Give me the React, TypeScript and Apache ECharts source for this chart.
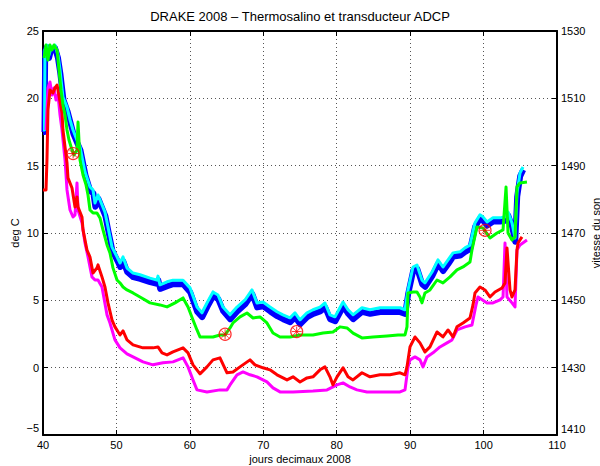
import React, { useEffect, useRef } from "react";
import * as echarts from "echarts";

const titleText = "DRAKE 2008 – Thermosalino et transducteur ADCP";
const xName = "jours decimaux 2008";
const leftName = "deg C";
const rightName = "vitesse du son";
const rightTicks = [1410, 1430, 1450, 1470, 1490, 1510, 1530];

// [day, sound speed m/s] – cyan (right axis)
const cyanSpeed = [
  [40.0, 1500.6], [40.2, 1500.6], [40.27, 1524.4], [40.54, 1525.8], [40.82, 1522.9], [41.09, 1525.0],
  [41.63, 1525.8], [42.04, 1522.9], [42.32, 1518.4], [42.72, 1510.4], [43.27, 1507.4], [43.68, 1503.6],
  [44.09, 1500.6], [44.63, 1497.6], [45.04, 1495.6], [45.72, 1488.1], [46.4, 1483.7], [46.81, 1482.8],
  [47.08, 1478.9], [47.49, 1481.3], [48.44, 1476.2], [48.85, 1471.8], [49.4, 1465.8], [50.08, 1462.9],
  [50.49, 1461.1], [50.9, 1462.9], [51.44, 1459.6], [52.26, 1458.1], [53.21, 1457.6], [54.57, 1456.6],
  [55.53, 1456.0], [55.66, 1457.2], [55.93, 1454.6], [56.89, 1455.5], [57.7, 1456.0], [59.07, 1456.0],
  [60.02, 1453.7], [60.97, 1448.0], [61.65, 1446.3], [62.33, 1449.2], [63.15, 1452.5], [63.83, 1451.6],
  [64.51, 1448.0], [65.47, 1445.7], [66.42, 1448.0], [67.51, 1450.1], [68.46, 1453.1], [69.14, 1449.2],
  [69.96, 1449.5], [70.91, 1448.0], [71.87, 1446.6], [72.68, 1445.7], [73.64, 1444.8], [74.32, 1446.3],
  [75.0, 1444.2], [75.95, 1446.3], [76.77, 1447.2], [77.72, 1448.0], [78.4, 1449.2], [79.08, 1445.7],
  [79.77, 1445.1], [80.86, 1449.5], [81.54, 1447.2], [82.22, 1445.7], [83.44, 1447.8], [84.53, 1447.2],
  [85.89, 1447.8], [87.26, 1447.8], [88.62, 1447.8], [89.3, 1447.2], [89.71, 1453.1], [90.39, 1459.9],
  [90.93, 1460.5], [91.61, 1456.0], [92.02, 1455.2], [92.98, 1458.4], [93.79, 1462.0], [94.47, 1459.9],
  [95.16, 1462.0], [95.84, 1464.1], [96.79, 1464.4], [97.47, 1465.6], [98.15, 1466.4], [98.83, 1473.0],
  [99.51, 1475.4], [99.92, 1474.8], [100.47, 1473.3], [101.28, 1474.5], [102.24, 1474.5], [102.92, 1474.8],
  [103.33, 1476.2], [103.87, 1473.0], [104.28, 1468.5], [104.55, 1481.9], [104.96, 1487.8], [105.37, 1489.6],
];

// [day, sound speed m/s] – blue (right axis)
const blueSpeed = [
  [40.0, 1500.0], [40.2, 1500.0], [40.3, 1523.8], [40.54, 1525.2], [40.82, 1522.0], [41.09, 1524.4],
  [41.63, 1525.0], [42.04, 1522.0], [42.36, 1517.4], [42.78, 1509.6], [43.33, 1506.2], [43.74, 1502.8],
  [44.15, 1499.4], [44.7, 1496.6], [45.1, 1494.6], [45.78, 1487.2], [46.45, 1482.4], [46.86, 1481.8],
  [47.13, 1477.8], [47.54, 1480.2], [48.5, 1475.0], [48.9, 1470.6], [49.45, 1464.8], [50.12, 1461.8],
  [50.52, 1459.9], [50.93, 1461.6], [51.47, 1458.4], [52.29, 1456.9], [53.24, 1456.4], [54.6, 1455.4],
  [55.55, 1454.9], [55.7, 1456.0], [55.96, 1453.4], [56.92, 1454.2], [57.72, 1454.8], [59.1, 1454.8],
  [60.05, 1452.4], [61.0, 1446.6], [61.68, 1445.0], [62.36, 1448.0], [63.18, 1451.3], [63.86, 1450.4],
  [64.54, 1446.8], [65.5, 1444.4], [66.45, 1446.7], [67.54, 1448.8], [68.5, 1451.9], [69.17, 1447.9],
  [70.0, 1448.2], [70.95, 1446.7], [71.9, 1445.3], [72.7, 1444.4], [73.67, 1443.5], [74.35, 1445.0],
  [75.03, 1442.9], [75.98, 1445.0], [76.8, 1446.0], [77.75, 1446.7], [78.43, 1447.9], [79.1, 1444.4],
  [79.8, 1443.8], [80.9, 1448.2], [81.57, 1446.0], [82.25, 1444.4], [83.47, 1446.6], [84.56, 1446.0],
  [85.92, 1446.5], [87.29, 1446.6], [88.65, 1446.5], [89.33, 1446.0], [89.74, 1452.0], [90.42, 1458.8],
  [90.96, 1459.4], [91.64, 1454.8], [92.05, 1454.0], [93.0, 1457.2], [93.82, 1460.9], [94.5, 1458.7],
  [95.19, 1460.8], [95.87, 1463.0], [96.82, 1463.3], [97.5, 1464.4], [98.18, 1465.3], [98.86, 1471.9],
  [99.54, 1474.4], [99.95, 1473.6], [100.5, 1472.2], [101.3, 1473.4], [102.27, 1473.4], [102.95, 1473.6],
  [103.36, 1475.2], [103.9, 1471.8], [104.31, 1467.4], [104.58, 1480.8], [104.99, 1486.9], [105.4, 1488.8],
];

// [day, deg C] – green
const greenTemp = [
  [40.14, 22.99], [40.41, 23.96], [40.68, 22.85], [40.95, 23.96], [41.23, 23.59], [41.5, 23.96],
  [41.91, 23.59], [42.18, 22.1], [42.45, 20.62], [42.72, 19.51], [43.0, 18.76], [43.27, 17.65],
  [43.54, 16.91], [43.95, 16.17], [44.22, 15.79], [44.63, 16.17], [44.77, 18.24], [45.04, 15.42],
  [45.45, 14.31], [45.86, 13.57], [46.13, 12.82], [46.4, 11.71], [46.81, 11.49], [47.35, 11.49],
  [47.76, 11.12], [48.17, 10.23], [48.72, 9.11], [49.12, 8.52], [49.53, 7.41], [50.08, 6.51],
  [50.49, 6.29], [50.9, 5.99], [51.44, 5.77], [52.26, 5.55], [53.21, 5.25], [54.57, 4.81],
  [55.93, 4.66], [56.89, 4.51], [57.98, 4.81], [59.07, 5.18], [59.75, 4.51], [60.43, 3.54],
  [60.97, 2.8], [61.38, 2.28], [62.33, 2.28], [63.15, 2.28], [64.1, 2.43], [64.79, 2.43],
  [65.47, 2.95], [65.87, 3.32], [66.83, 3.77], [67.78, 4.06], [68.6, 3.69], [69.55, 3.77],
  [70.5, 3.32], [71.32, 2.57], [72.28, 2.28], [73.64, 2.28], [75.0, 2.43], [76.77, 2.43],
  [78.13, 2.57], [79.49, 2.65], [80.45, 3.03], [81.4, 2.95], [82.22, 2.57], [83.44, 2.21],
  [84.94, 2.28], [86.85, 2.36], [88.35, 2.43], [89.3, 2.43], [89.57, 3.03], [89.71, 5.55],
  [90.39, 5.62], [90.93, 5.62], [91.34, 5.25], [91.61, 4.81], [92.02, 5.55], [92.7, 5.77],
  [93.66, 6.51], [94.47, 6.29], [95.43, 6.74], [96.38, 7.26], [97.2, 7.48], [98.15, 7.85],
  [98.42, 8.74], [99.1, 10.45], [99.92, 10.38], [100.87, 9.63], [101.83, 10.0], [102.65, 10.23],
  [103.06, 13.42], [103.33, 10.0], [103.87, 9.48], [104.28, 9.71], [104.55, 13.42], [104.96, 13.72],
  [105.91, 13.79],
];

// [day, deg C] – red
const redTemp = [
  [40.0, 13.2], [40.41, 13.2], [40.54, 15.42], [40.68, 19.14], [40.95, 20.62], [41.36, 20.4],
  [41.63, 20.77], [41.91, 20.99], [42.04, 20.62], [42.32, 19.73], [42.59, 18.91], [42.72, 17.65],
  [43.0, 16.39], [43.27, 15.2], [43.4, 14.09], [43.95, 13.34], [44.36, 11.93], [44.63, 12.68],
  [44.77, 11.93], [45.31, 11.19], [45.45, 10.23], [45.99, 8.74], [46.4, 8.22], [46.81, 7.03],
  [47.35, 7.41], [47.49, 7.63], [48.03, 6.74], [48.44, 5.99], [48.85, 4.81], [49.4, 3.54],
  [49.8, 3.03], [50.49, 2.43], [50.9, 2.73], [51.44, 2.06], [52.26, 1.69], [53.62, 1.47],
  [54.98, 1.47], [55.66, 1.54], [56.21, 1.1], [56.89, 0.95], [57.7, 1.17], [59.07, 1.47],
  [59.75, 1.1], [60.43, 0.21], [61.38, -0.46], [62.33, 0.06], [63.15, 0.58], [64.1, 0.73],
  [65.06, -0.38], [65.87, -0.32], [66.83, 0.06], [68.19, 0.58], [68.87, 0.21], [69.96, -0.01],
  [70.91, -0.16], [71.87, -0.53], [73.23, -0.91], [74.05, -0.68], [75.0, -1.06], [75.95, -0.76],
  [76.77, -0.68], [77.72, -0.16], [78.4, 0.06], [79.08, -0.68], [79.49, -1.28], [80.04, -0.68],
  [80.86, -0.01], [81.54, -0.68], [82.22, -0.91], [83.44, -0.38], [84.53, -0.68], [85.89, -0.53],
  [87.26, -0.53], [88.62, -0.38], [89.3, -0.53], [89.57, 0.06], [89.98, 1.54], [90.66, 2.28],
  [91.34, 1.84], [92.02, 1.17], [92.7, 1.54], [93.66, 2.65], [94.47, 2.28], [95.16, 2.8],
  [95.84, 2.28], [96.38, 3.03], [97.2, 3.32], [98.15, 3.69], [98.56, 4.66], [98.83, 5.55],
  [99.51, 5.99], [100.19, 5.77], [100.87, 5.25], [101.56, 5.62], [102.51, 5.92], [102.92, 6.29],
  [103.19, 8.89], [103.6, 5.77], [103.87, 5.25], [104.28, 5.77], [104.55, 8.74], [104.69, 9.26],
  [105.23, 9.71],
];

// [day, deg C] – magenta
const magentaTemp = [
  [40.41, 17.65], [40.68, 20.77], [40.95, 21.21], [41.23, 20.25], [41.5, 20.77], [41.77, 19.88],
  [42.04, 20.25], [42.32, 18.76], [42.59, 17.65], [43.0, 15.42], [43.27, 13.2], [43.68, 11.71],
  [44.09, 11.19], [44.36, 11.34], [44.63, 13.72], [44.77, 11.71], [45.31, 10.75], [45.72, 9.26],
  [46.13, 8.22], [46.67, 6.74], [47.08, 6.51], [47.49, 6.51], [48.03, 5.99], [48.72, 3.92],
  [49.12, 3.32], [49.8, 2.06], [50.49, 1.47], [51.44, 1.02], [52.26, 0.8], [53.62, 0.43],
  [54.98, 0.21], [56.34, 0.36], [57.7, 0.43], [59.07, 0.73], [59.75, 0.06], [60.43, -0.91],
  [60.97, -1.65], [62.33, -1.8], [64.1, -1.65], [65.06, -1.65], [65.47, -1.28], [66.42, -0.53],
  [67.24, -0.32], [68.19, -0.53], [69.14, -0.68], [70.5, -1.06], [71.32, -1.5], [72.28, -1.8],
  [74.05, -1.8], [76.77, -1.73], [78.68, -1.65], [80.04, -1.28], [80.86, -1.13], [81.81, -1.43],
  [82.76, -1.65], [84.12, -1.8], [88.62, -1.8], [89.3, -1.65], [89.71, 0.06], [89.98, 0.58],
  [90.66, 0.8], [91.34, 0.58], [91.75, 0.06], [92.29, 0.8], [93.11, 1.1], [94.06, 1.54],
  [95.02, 1.84], [95.7, 2.06], [96.38, 2.8], [97.47, 3.03], [98.42, 3.17], [98.97, 4.66],
  [99.24, 5.25], [100.47, 4.81], [101.28, 4.81], [102.24, 5.03], [102.65, 5.25], [102.92, 9.26],
  [103.19, 5.25], [103.87, 4.81], [104.28, 4.51], [104.55, 8.74], [104.96, 9.11], [105.91, 9.48],
];

// [day, deg C] – marked stations
const stations = [[44.1, 15.9], [64.8, 2.48], [74.55, 2.68], [100.2, 10.2]];

const FONT = "'Liberation Sans', Arial, Helvetica, sans-serif";
const ASTERISK = "path://M10 0 L10 20 M0 10 L20 10 M3 3 L17 17 M3 17 L17 3";

export default function App() {
  const ref = useRef<HTMLDivElement>(null);
  useEffect(() => {
    if (!ref.current) return;
    const chart = echarts.init(ref.current, undefined, { renderer: "svg" });
    const txt = { fontFamily: FONT, fontSize: 11, color: "#000" };
    const axLine = { show: true, onZero: false, lineStyle: { color: "#000", width: 2 } };
    const tick = { show: true, inside: true, length: 5, lineStyle: { color: "#000", width: 1 } };
    const grid = { show: true, lineStyle: { color: "#555", type: [1, 3], width: 1 } };
    const line = (data: number[][], color: string, width: number, yIdx: number) => ({
      type: "line",
      data,
      yAxisIndex: yIdx,
      showSymbol: false,
      symbol: "none",
      silent: true,
      lineStyle: { color, width, join: "round" },
    });
    chart.setOption({
      animation: false,
      backgroundColor: "#fff",
      title: {
        text: titleText,
        left: "center",
        top: 10,
        padding: 0,
        textStyle: { ...txt, fontSize: 13, fontWeight: "normal" },
      },
      grid: { left: 43, right: 43, top: 31, bottom: 31, outerBoundsMode: "none", containLabel: false },
      xAxis: [
        {
          type: "value",
          min: 40,
          max: 110,
          interval: 10,
          position: "bottom",
          name: xName,
          nameLocation: "middle",
          nameGap: 18,
          nameMoveOverlap: false,
          nameTextStyle: txt,
          axisLine: axLine,
          axisTick: tick,
          axisLabel: { ...txt, margin: 4 },
          splitLine: grid,
        },
        {
          type: "value",
          min: 40,
          max: 110,
          interval: 10,
          position: "top",
          axisLine: axLine,
          axisTick: tick,
          axisLabel: { show: false },
          splitLine: { show: false },
        },
      ],
      yAxis: [
        {
          type: "value",
          min: -5,
          max: 25,
          interval: 5,
          position: "left",
          name: leftName,
          nameLocation: "middle",
          nameGap: 23,
          nameRotate: 90,
          nameMoveOverlap: false,
          nameTextStyle: txt,
          axisLine: axLine,
          axisTick: tick,
          axisLabel: {
            ...txt,
            margin: 4,
            formatter: (v: number) => (v === -5 ? "{lo|−5}" : v < 0 ? "−" + Math.abs(v) : String(v)),
            rich: { lo: { ...txt, padding: [0, 0, 14, 0] } },
          },
          splitLine: grid,
        },
        {
          type: "value",
          min: 1410,
          max: 1530,
          position: "right",
          name: rightName,
          nameLocation: "middle",
          nameGap: 33,
          nameRotate: 90,
          nameMoveOverlap: false,
          nameTextStyle: txt,
          axisLine: axLine,
          axisTick: { ...tick, customValues: rightTicks },
          axisLabel: {
            ...txt,
            margin: 4,
            customValues: rightTicks,
            formatter: (v: number) => (v === 1410 ? "{lo|1410}" : String(v)),
            rich: { lo: { ...txt, padding: [0, 0, 12, 0] } },
          },
          splitLine: { show: false },
        },
      ],
      series: [
        line(blueSpeed, "#0000ff", 6, 1),
        line(cyanSpeed, "#00ffff", 3, 1),
        line(magentaTemp, "#ff00ff", 3, 0),
        line(redTemp, "#ff0000", 3, 0),
        line(greenTemp, "#00ff00", 3, 0),
        {
          type: "scatter",
          data: stations,
          yAxisIndex: 0,
          symbol: "circle",
          symbolSize: 12,
          silent: true,
          itemStyle: { color: "none", borderColor: "#ff0000", borderWidth: 1.2 },
          z: 5,
        },
        {
          type: "scatter",
          data: stations,
          yAxisIndex: 0,
          symbol: ASTERISK,
          symbolSize: 10,
          silent: true,
          itemStyle: { color: "none", borderColor: "#ff0000", borderWidth: 1 },
          z: 6,
        },
      ],
    });
    return () => chart.dispose();
  }, []);
  return (
    <div
      ref={ref}
      style={{ position: "absolute", left: 0, top: 0, width: 600, height: 466 }}
    />
  );
}
